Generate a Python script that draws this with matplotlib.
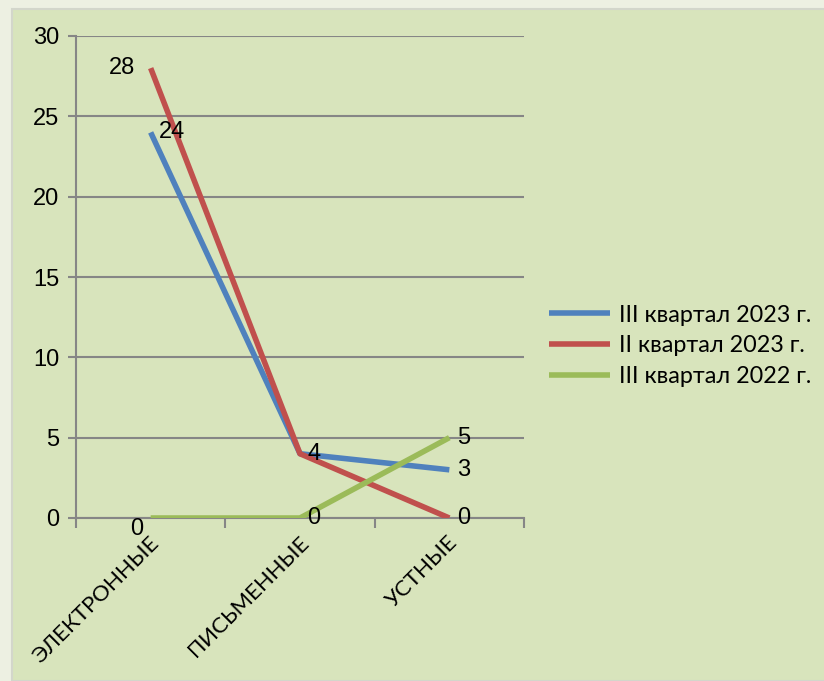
import matplotlib.pyplot as plt
from matplotlib.patches import Rectangle

# Data
categories = ['ЭЛЕКТРОННЫЕ', 'ПИСЬМЕННЫЕ', 'УСТНЫЕ']
series_names = ['III квартал 2023 г.', 'II квартал 2023 г.', 'III квартал 2022 г.']
q3_2023 = [24, 4, 3]
q2_2023 = [28, 4, 0]
q3_2022 = [0, 0, 5]
yticks = [0, 5, 10, 15, 20, 25, 30]

colors = ['#4F81BD', '#C0504D', '#9BBB59']
bg = '#D8E4BC'

fig = plt.figure(figsize=(8.24, 6.81), dpi=100)
fig.patch.set_facecolor('#EDF0E2')
fig.patches.append(Rectangle((12 / 824, 0), 1, 1 - 9 / 681, transform=fig.transFigure,
                             facecolor=bg, edgecolor='#D3D6CB', linewidth=1.5, zorder=-1))

ax = fig.add_axes([76 / 824, 163 / 681, 448 / 824, 482 / 681])
ax.set_zorder(2)
ax.patch.set_alpha(0)

x = list(range(len(categories)))
all_series = [q3_2023, q2_2023, q3_2022]
for vals, name, c in zip(all_series, series_names, colors):
    ax.plot(x, vals, color=c, linewidth=4, label=name, solid_capstyle='butt', zorder=3)

# data labels (offsets in points)
num_font = dict(family='Liberation Sans', fontsize=17, color='black', zorder=5)
label_offsets = {
    0: [(15, 0), (10, 0), (10, 0)],
    1: [(-21, 0), (10, 0), (10, 0)],
    2: [(-10, -8), (10, 0), (10, 0)],
}
for i, vals in enumerate(all_series):
    for j, v in enumerate(vals):
        if i == 1 and j == 1:
            continue
        dx, dy = label_offsets[i][j]
        ax.annotate(str(v), (x[j], v), xytext=(dx, dy), textcoords='offset points',
                    ha='center', va='center', **num_font)

ax.set_xlim(-0.5, 2.5)
ax.set_ylim(0, 30)
ax.set_yticks(yticks)
ax.set_yticklabels([str(t) for t in yticks], fontfamily='Liberation Sans', fontsize=17)
ax.set_xticks([-0.5, 0.5, 1.5, 2.5])
ax.set_xticklabels([])
ax.yaxis.grid(True, color='#868686', linewidth=1.5)
ax.set_axisbelow(True)
for s in ['top', 'right']:
    ax.spines[s].set_visible(False)
for s in ['left', 'bottom']:
    ax.spines[s].set_color('#868686')
    ax.spines[s].set_linewidth(1.5)
ax.tick_params(axis='both', color='#868686', width=1.5)
ax.tick_params(axis='y', length=6, pad=6)
ax.tick_params(axis='x', length=7)

for j, cat in enumerate(categories):
    ax.text(x[j] - 0.01, -0.9, cat, rotation=45, ha='right', va='top',
            rotation_mode='anchor', fontfamily='Lato', fontsize=16, transform=ax.transData)

leg = ax.legend(loc='center left', bbox_to_anchor=(1.056, 0.357), frameon=False,
                borderaxespad=0, borderpad=0,
                prop={'family': 'Lato', 'size': 16.8}, handlelength=2.6,
                handletextpad=0.4, labelspacing=0.42)

fig.savefig('out.png', dpi=100, facecolor=fig.get_facecolor())
